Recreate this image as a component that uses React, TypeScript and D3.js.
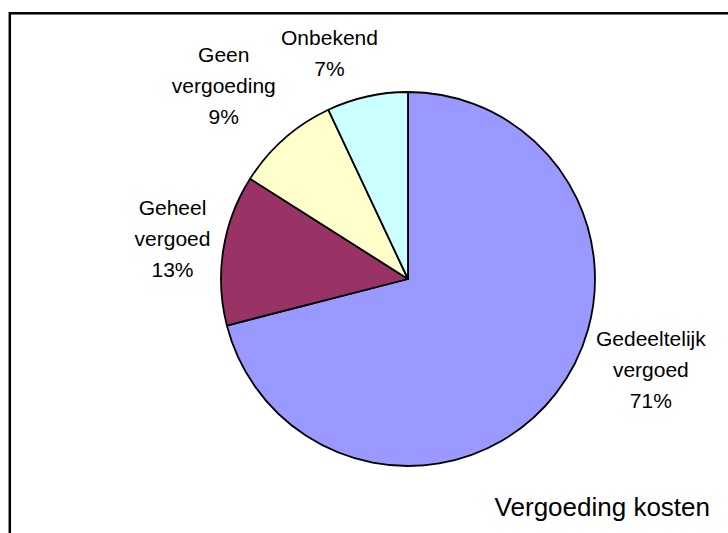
import React, { useEffect, useRef } from 'react';
import * as d3 from 'd3';

// slice order: clockwise from 12 o'clock
const categories = ['Gedeeltelijk vergoed', 'Geheel vergoed', 'Geen vergoeding', 'Onbekend'];
const labelLines = [
  ['Gedeeltelijk', 'vergoed'],
  ['Geheel', 'vergoed'],
  ['Geen', 'vergoeding'],
  ['Onbekend'],
];
const percentages = [71, 13, 9, 7];
const sliceColors = ['#9999FF', '#993366', '#FFFFCC', '#CCFFFF'];
const chartTitle = 'Vergoeding kosten';

interface Slice {
  name: string;
  lines: string[];
  value: number;
  color: string;
}

const App: React.FC = () => {
  const svgRef = useRef<SVGSVGElement | null>(null);

  useEffect(() => {
    if (!svgRef.current) return;

    const width = 728;
    const height = 533;
    const cx = 408;
    const cy = 279;
    const radius = 187;
    const lineGap = 31;
    const labelBottom = 416;
    const fontSize = 21;

    const data: Slice[] = categories.map((name, i) => ({
      name,
      lines: [...labelLines[i], `${percentages[i]}%`],
      value: percentages[i],
      color: sliceColors[i],
    }));

    const svg = d3.select(svgRef.current);
    svg.selectAll('*').remove();
    svg.attr('width', width).attr('height', height);

    svg
      .append('rect')
      .attr('width', width)
      .attr('height', height)
      .attr('fill', '#ffffff');

    // chart frame (runs off the right and bottom of the picture)
    svg
      .append('rect')
      .attr('x', 9.8)
      .attr('y', 13.3)
      .attr('width', 900)
      .attr('height', 700)
      .attr('fill', 'none')
      .attr('stroke', '#000')
      .attr('stroke-width', 2.5);

    const g = svg.append('g').attr('transform', `translate(${cx},${cy})`);

    const pie = d3
      .pie<Slice>()
      .sort(null)
      .value((d) => d.value);
    const arcs = pie(data);

    const arc = d3.arc<d3.PieArcDatum<Slice>>().innerRadius(0).outerRadius(radius);
    const labelArc = d3
      .arc<d3.PieArcDatum<Slice>>()
      .innerRadius(radius + 13)
      .outerRadius(radius + 13);

    g.selectAll('path.slice')
      .data(arcs)
      .enter()
      .append('path')
      .attr('class', 'slice')
      .attr('d', (d) => arc(d) as string)
      .attr('fill', (d) => d.data.color)
      .attr('stroke', '#000')
      .attr('stroke-width', 1.8)
      .attr('stroke-linejoin', 'round');

    // labels outside the pie
    arcs.forEach((d) => {
      const mid = (d.startAngle + d.endAngle) / 2;
      const ux = Math.sin(mid);
      const uy = -Math.cos(mid);
      const [ax, ay] = labelArc.centroid(d);

      const text = g
        .append('text')
        .attr('text-anchor', 'middle')
        .attr('font-family', 'Liberation Sans, Arial, sans-serif')
        .attr('font-size', fontSize)
        .attr('fill', '#000');
      d.data.lines.forEach((line) => {
        text.append('tspan').attr('x', 0).text(line);
      });
      const w = (text.node() as SVGTextElement).getBBox().width;
      const halfH = (d.data.lines.length * lineGap) / 2;

      const sx = Math.max(-1, Math.min(1, ux * 3.3));
      const sy = Math.max(-1, Math.min(1, uy * 1.25));
      let lx = ax + sx * (w / 2);
      let ly = ay + sy * halfH;

      // keep the label inside the plot area
      if (ly + halfH > labelBottom - cy) {
        ly = labelBottom - cy - halfH;
        const nearY = Math.max(Math.abs(ly) - halfH, 0);
        const edge = Math.sqrt(Math.max(radius * radius - nearY * nearY, 0));
        if (ux > 0 && lx - w / 2 < edge + 6) lx = edge + 6 + w / 2;
        if (ux < 0 && lx + w / 2 > -edge - 6) lx = -edge - 6 - w / 2;
      }

      const n = d.data.lines.length;
      text
        .selectAll('tspan')
        .attr('x', lx)
        .attr('y', (_, i) => ly - ((n - 1) * lineGap) / 2 + i * lineGap + fontSize * 0.36);
    });

    svg
      .append('text')
      .attr('x', 710)
      .attr('y', 516)
      .attr('text-anchor', 'end')
      .attr('font-family', 'Liberation Sans, Arial, sans-serif')
      .attr('font-size', 26)
      .attr('fill', '#000')
      .text(chartTitle);
  }, []);

  return <svg ref={svgRef} style={{ position: 'absolute', left: 0, top: 0, display: 'block' }}></svg>;
};

export default App;
